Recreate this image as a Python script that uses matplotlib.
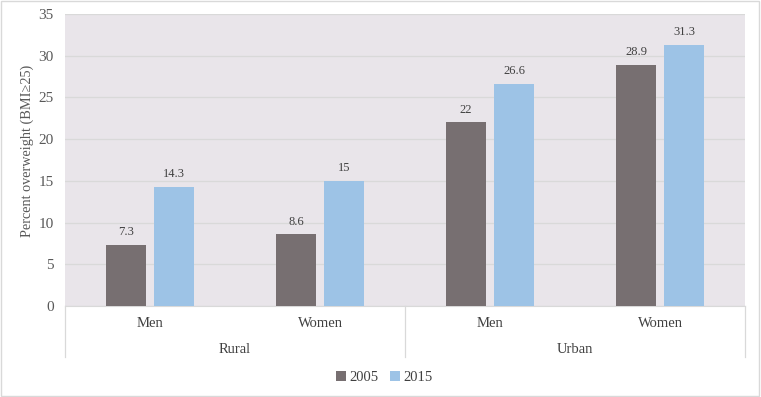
import numpy as np
import matplotlib.pyplot as plt
from matplotlib.lines import Line2D
from matplotlib.patches import Rectangle

plt.rcParams['font.family'] = ['Liberation Serif', 'DejaVu Serif']

sexes = ['Men', 'Women', 'Men', 'Women']
areas = ['Rural', 'Urban']
y2005 = [7.3, 8.6, 22, 28.9]
y2015 = [14.3, 15, 26.6, 31.3]

ind = np.arange(len(sexes))
width = 0.235
off = 0.141

fig = plt.figure(figsize=(7.61, 3.97), dpi=100)
ax = fig.add_axes([0.0854, 0.229, 0.8936, 0.736])
ax.set_facecolor('#E9E5EA')

b1 = ax.bar(ind - off, y2005, width, color='#776F71', label='2005', zorder=3)
b2 = ax.bar(ind + off, y2015, width, color='#9DC3E6', label='2015', zorder=3)

ax.set_xlim(-0.5, 3.5)
ax.set_ylim(0, 35)
ax.set_yticks(range(0, 36, 5))
ax.yaxis.grid(True, color='#D9D9D9', linewidth=0.9, zorder=0)
for s in ['left', 'right', 'top']:
    ax.spines[s].set_visible(False)
ax.spines['bottom'].set_color('#D9D9D9')
ax.tick_params(axis='y', length=0, labelsize=11, colors='#595959', pad=8)
ax.set_xticks(ind)
ax.set_xticklabels(sexes)
ax.tick_params(axis='x', length=0, labelsize=10.5, colors='#404040', pad=8)
ax.set_ylabel('Percent overweight (BMI≥25)', fontsize=10.3, color='#595959')
ax.yaxis.set_label_coords(-0.045, 0.53)


def autolabel(rects, vals):
    for rect, v in zip(rects, vals):
        ax.text(rect.get_x() + rect.get_width() / 2, rect.get_height() + 0.8,
                '{}'.format(v), ha='center', va='bottom', fontsize=9, color='#404040')


autolabel(b1, y2005)
autolabel(b2, y2015)

# group axis
tr = ax.get_xaxis_transform()
for xs in [-0.5, 1.5, 3.5]:
    ax.add_line(Line2D([xs, xs], [0, -0.175], transform=tr, color='#D9D9D9',
                       linewidth=0.9, clip_on=False))
for i, a in enumerate(areas):
    ax.text(0.5 + 2 * i, -0.147, a, transform=tr, ha='center', va='center',
            fontsize=10.5, color='#404040')

fig.legend(loc='center', bbox_to_anchor=(0.505, 0.05), ncol=2, frameon=False,
           fontsize=10.5, handlelength=0.7, handleheight=0.7, handletextpad=0.2,
           columnspacing=0.8, labelcolor='#404040')

fig.patches.append(Rectangle((0.001, 0.002), 0.997, 0.996, transform=fig.transFigure,
                             fill=False, edgecolor='#D9D9D9', linewidth=1))

fig.savefig('out.png', dpi=100)
